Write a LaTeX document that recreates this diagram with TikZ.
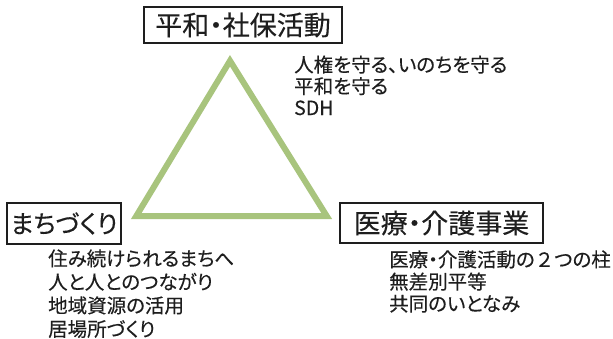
\documentclass[tikz,border=0pt]{standalone}
\usepackage{fontspec}
\setmainfont[RawFeature=+palt, FakeBold=0.25]{Noto Sans CJK JP}
\definecolor{trigreen}{RGB}{168,196,125}
\definecolor{ink}{RGB}{30,30,30}
\newcommand{\fullwd}[1]{{\addfontfeature{RawFeature=-palt}#1}}
\tikzset{
  titlebox/.style={draw=ink, line width=1.1pt, text=ink, inner sep=0pt,
    font=\fontsize{27}{30}\selectfont, anchor=center},
  subline/.style={text=ink, inner sep=0pt, anchor=base west,
    font=\fontsize{19.5}{22}\selectfont},
  tri/.style={draw=trigreen, line width=6pt, line join=miter}
}
\begin{document}
\begin{tikzpicture}[x=1pt,y=-1pt]
\useasboundingbox[fill=white] (0,0) rectangle (613,338);
% triangle
\coordinate (A) at (230,60.8);
\coordinate (B) at (136.3,216);
\coordinate (C) at (326.7,216);
\draw[tri] (A) -- (B) -- (C) -- cycle;
% title boxes
\node[titlebox, minimum width=198pt, minimum height=36pt] (peace) at (243,25) {平和・社保活動};
\node[titlebox, minimum width=114pt, minimum height=41pt, font=\fontsize{25}{30}\selectfont] (town) at (64,223.5) {まちづくり};
\node[titlebox, minimum width=203pt, minimum height=40pt] (care) at (441.5,223) {医療・介護事業};
% top-right lines
\node[subline] (p1) at (294,72) {人権を守る、いのちを守る};
\node[subline] (p2) at (294,93.5) {平和を守る};
\node[subline] (p3) at (294,115) {SDH};
% left lines
\node[subline] (t1) at (48,265.8) {住み続けられるまちへ};
\node[subline] (t2) at (48,289.3) {人と人とのつながり};
\node[subline] (t3) at (48,312.8) {地域資源の活用};
\node[subline] (t4) at (48,336.3) {居場所づくり};
% right lines
\node[subline] (c1) at (389,266.8) {医療・介護活動の\fullwd{２}つの柱};
\node[subline] (c2) at (389,289) {無差別平等};
\node[subline] (c3) at (389,311) {共同のいとなみ};
\end{tikzpicture}
\end{document}
